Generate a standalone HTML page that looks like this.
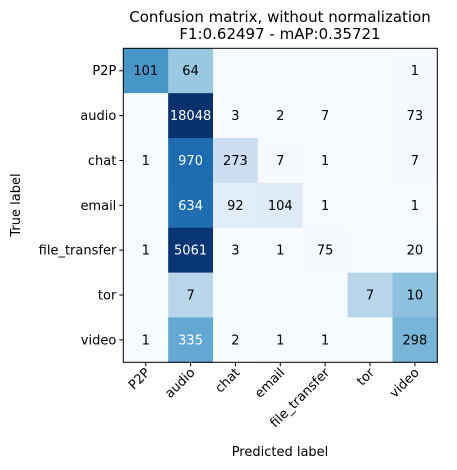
<!DOCTYPE html>
<html><head><meta charset="utf-8"><style>body{margin:0;background:#fff}svg{display:block;font-family:"DejaVu Sans","Liberation Sans",sans-serif}</style></head>
<body>
<svg id="chart" width="457" height="470" xmlns="http://www.w3.org/2000/svg">
<text x="280" y="22" font-size="15" text-anchor="middle">Confusion matrix, without normalization</text>
<text x="280" y="39" font-size="15" text-anchor="middle">F1:0.62497 - mAP:0.35721</text>
<g id="cells"></g>
<rect x="123.3" y="48.3" width="314" height="314" fill="none" stroke="#000" stroke-width="1"/>
<g id="ticks"></g>
<text x="280" y="456" font-size="13" text-anchor="middle">Predicted label</text>
<text transform="translate(20,205) rotate(-90)" font-size="13" text-anchor="middle">True label</text>
</svg>
<script>
const labels = ["P2P","audio","chat","email","file_transfer","tor","video"];
const matrix = [
 [101,64,0,0,0,0,1],
 [0,18048,3,2,7,0,73],
 [1,970,273,7,1,0,7],
 [0,634,92,104,1,0,1],
 [1,5061,3,1,75,0,20],
 [0,7,0,0,0,7,10],
 [1,335,2,1,1,0,298]
];
const textThreshold = 300;
const x0=123.3,y0=48.3,cs=314/7;
const stops=["#f7fbff","#deebf7","#c6dbef","#9ecae1","#6baed6","#4292c6","#2171b5","#08519c","#08306b"];
function hex(h){return [1,3,5].map(i=>parseInt(h.substr(i,2),16));}
function blues(t){t=Math.max(0,Math.min(1,t));const p=t*8,i=Math.min(7,Math.floor(p)),f=p-i;const a=hex(stops[i]),b=hex(stops[i+1]);return "rgb("+a.map((v,k)=>Math.round(v+(b[k]-v)*f)).join(",")+")";}
const NS="http://www.w3.org/2000/svg";
const cells=document.getElementById("cells"),ticks=document.getElementById("ticks");
matrix.forEach((row,r)=>{
 const sum=row.reduce((a,b)=>a+b,0);
 row.forEach((v,c)=>{
  const rect=document.createElementNS(NS,"rect");
  
  
  rect.setAttribute("x",x0+c*cs);rect.setAttribute("y",y0+r*cs);
  rect.setAttribute("width",cs+0.5);rect.setAttribute("height",cs+0.5);
  rect.setAttribute("fill",blues(v/sum));
  cells.appendChild(rect);
  if(v>0){
   const t=document.createElementNS(NS,"text");
   
   
   t.setAttribute("x",x0+(c+0.5)*cs);t.setAttribute("y",y0+(r+0.5)*cs+4.5);
   t.setAttribute("font-size","13");t.setAttribute("text-anchor","middle");
   t.setAttribute("fill",v>textThreshold?"#fff":"#000");
   t.textContent=v;cells.appendChild(t);
  }
 });
});
labels.forEach((l,i)=>{
 const cy=y0+(i+0.5)*cs,cx=x0+(i+0.5)*cs;
 const ty=document.createElementNS(NS,"line");
 
 
 ty.setAttribute("x1",x0-4);ty.setAttribute("x2",x0);ty.setAttribute("y1",cy);ty.setAttribute("y2",cy);ty.setAttribute("stroke","#000");
 ticks.appendChild(ty);
 const ly=document.createElementNS(NS,"text");
 
 
 ly.setAttribute("x",x0-7);ly.setAttribute("y",cy+4.5);ly.setAttribute("font-size","13");ly.setAttribute("text-anchor","end");
 ly.textContent=l;ticks.appendChild(ly);
 const tx=document.createElementNS(NS,"line");
 
 
 tx.setAttribute("x1",cx);tx.setAttribute("x2",cx);tx.setAttribute("y1",y0+314);tx.setAttribute("y2",y0+318);tx.setAttribute("stroke","#000");
 ticks.appendChild(tx);
 const lx=document.createElementNS(NS,"text");
 
 
 lx.setAttribute("transform","translate("+(cx+5)+","+(y0+325)+") rotate(-45)");
 lx.setAttribute("font-size","13");lx.setAttribute("text-anchor","end");
 lx.textContent=l;ticks.appendChild(lx);
});
</script>
</body></html>
